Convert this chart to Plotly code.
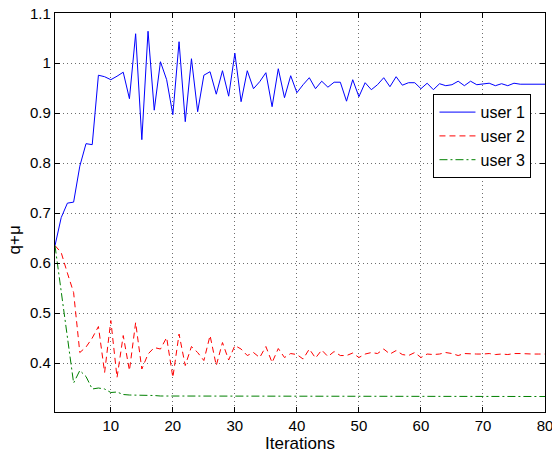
import plotly.graph_objects as go

iterations = list(range(1, 81))

user1 = [0.635, 0.691, 0.720, 0.722, 0.794, 0.839, 0.837, 0.976, 0.973, 0.967,
         0.974, 0.982, 0.929, 1.059, 0.847, 1.064, 0.906, 1.003, 0.967, 0.897,
         1.043, 0.883, 1.009, 0.903, 0.976, 0.983, 0.938, 0.985, 0.934, 1.020,
         0.923, 0.985, 0.949, 0.963, 0.981, 0.913, 0.989, 0.931, 0.975, 0.941,
         0.957, 0.971, 0.949, 0.964, 0.952, 0.962, 0.962, 0.924, 0.967, 0.933,
         0.961, 0.947, 0.957, 0.971, 0.953, 0.973, 0.956, 0.961, 0.961, 0.949,
         0.960, 0.947, 0.959, 0.955, 0.957, 0.964, 0.955, 0.964, 0.957, 0.958,
         0.960, 0.955, 0.959, 0.955, 0.960, 0.958, 0.958, 0.958, 0.958, 0.958]

user2 = [0.635, 0.621, 0.580, 0.541, 0.421, 0.432, 0.450, 0.473, 0.381, 0.485,
         0.371, 0.455, 0.385, 0.481, 0.388, 0.418, 0.431, 0.428, 0.451, 0.371,
         0.458, 0.395, 0.433, 0.421, 0.405, 0.455, 0.395, 0.441, 0.406, 0.435,
         0.428, 0.415, 0.421, 0.411, 0.433, 0.401, 0.429, 0.411, 0.419, 0.417,
         0.408, 0.428, 0.410, 0.426, 0.413, 0.423, 0.415, 0.415, 0.420, 0.411,
         0.418, 0.421, 0.419, 0.428, 0.418, 0.425, 0.417, 0.415, 0.421, 0.411,
         0.418, 0.417, 0.418, 0.421, 0.419, 0.415, 0.419, 0.418, 0.418, 0.418,
         0.419, 0.417, 0.418, 0.417, 0.419, 0.419, 0.418, 0.418, 0.418, 0.418]

user3 = [0.635, 0.545, 0.455, 0.360, 0.385, 0.373, 0.348, 0.350, 0.348, 0.341,
         0.342, 0.337, 0.336, 0.336, 0.335, 0.335, 0.335, 0.334, 0.334, 0.334,
         0.334, 0.334, 0.334, 0.334, 0.334, 0.333, 0.333, 0.333, 0.333, 0.333,
         0.333, 0.333, 0.333, 0.333, 0.333, 0.333, 0.333, 0.333, 0.333, 0.333,
         0.333, 0.333, 0.333, 0.333, 0.333, 0.333, 0.333, 0.333, 0.333, 0.333,
         0.333, 0.333, 0.333, 0.333, 0.333, 0.333, 0.333, 0.333, 0.333, 0.333,
         0.333, 0.333, 0.333, 0.333, 0.333, 0.333, 0.333, 0.333, 0.333, 0.333,
         0.333, 0.333, 0.333, 0.333, 0.333, 0.333, 0.333, 0.333, 0.333, 0.333]

x_ticks = [10, 20, 30, 40, 50, 60, 70, 80]
x_tick_labels = ["10", "20", "30", "40", "50", "60", "70", "80"]
y_ticks = [0.4, 0.5, 0.6, 0.7, 0.8, 0.9, 1.0, 1.1]
y_tick_labels = ["0.4", "0.5", "0.6", "0.7", "0.8", "0.9", "1", "1.1"]

FAM = "Liberation Sans, Arial, sans-serif"
tick_font = dict(family=FAM, size=15, color="black")
title_font = dict(family=FAM, size=17, color="black")

fig = go.Figure()
fig.add_trace(go.Scatter(x=iterations, y=user1, mode="lines", name="user 1",
                         line=dict(color="rgb(0,0,255)", width=1)))
fig.add_trace(go.Scatter(x=iterations, y=user2, mode="lines", name="user 2",
                         line=dict(color="rgb(255,0,0)", width=1, dash="6px,4px")))
fig.add_trace(go.Scatter(x=iterations, y=user3, mode="lines", name="user 3",
                         line=dict(color="rgb(0,128,0)", width=1, dash="8px,3px,2px,3px")))

axis_common = dict(
    showline=True, linecolor="black", linewidth=1.2, mirror="ticks",
    ticks="inside", ticklen=5, tickcolor="black", tickwidth=1,
    showgrid=True, gridcolor="rgb(110,110,110)", gridwidth=1, griddash="1px,3px",
    zeroline=False, tickfont=tick_font, ticklabeloverflow="allow", automargin=False,
)

fig.update_layout(
    width=552, height=453,
    margin=dict(l=55, r=7, t=13, b=41, autoexpand=False),
    paper_bgcolor="white", plot_bgcolor="white",
    font=tick_font,
    xaxis=dict(range=[1, 80], tickvals=x_ticks, ticktext=x_tick_labels,
               title=dict(text="Iterations", font=title_font, standoff=0), **axis_common),
    yaxis=dict(range=[0.302, 1.1005], tickvals=y_ticks, ticktext=y_tick_labels,
               **axis_common),
    legend=dict(x=0.772, y=0.797, xanchor="left", yanchor="top",
                bordercolor="black", borderwidth=1.2, bgcolor="white",
                font=dict(family=FAM, size=16, color="black"),
                tracegroupgap=0, itemwidth=36),
    showlegend=True,
    annotations=[dict(text="q+μ", textangle=-90, xref="paper", yref="paper",
                      x=0, y=0.43, xshift=-41, xanchor="center", yanchor="middle",
                      showarrow=False, font=title_font)],
)

fig.write_html("out.html")
